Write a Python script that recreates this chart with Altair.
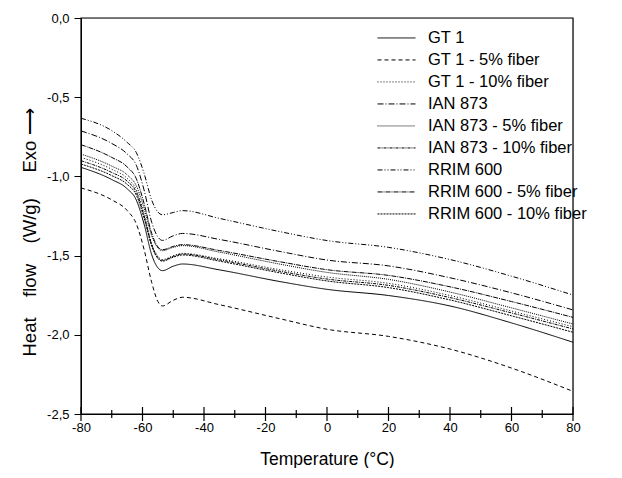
import altair as alt
import pandas as pd

temps = [-80, -70, -65, -62, -59.5, -57, -55, -53.5, -50, -47, -35, -15, 0, 20, 40, 60, 80]

series_names = [
    "GT 1", "GT 1 - 5% fiber", "GT 1 - 10% fiber",
    "IAN 873", "IAN 873 - 5% fiber", "IAN 873 - 10% fiber",
    "RRIM 600", "RRIM 600 - 5% fiber", "RRIM 600 - 10% fiber",
]

gt1       = [-0.943, -1.020, -1.078, -1.150, -1.300, -1.495, -1.577, -1.595, -1.567, -1.553, -1.590, -1.665, -1.713, -1.752, -1.818, -1.925, -2.047]
gt1_5     = [-1.073, -1.148, -1.215, -1.300, -1.460, -1.670, -1.790, -1.818, -1.782, -1.763, -1.810, -1.900, -1.965, -2.010, -2.090, -2.210, -2.357]
gt1_10    = [-0.880, -0.955, -1.012, -1.085, -1.235, -1.425, -1.505, -1.525, -1.500, -1.486, -1.520, -1.590, -1.635, -1.675, -1.752, -1.850, -1.949]
ian       = [-0.713, -0.792, -0.858, -0.930, -1.085, -1.290, -1.382, -1.404, -1.375, -1.360, -1.398, -1.475, -1.528, -1.565, -1.640, -1.735, -1.843]
ian_5     = [-0.859, -0.935, -0.990, -1.060, -1.200, -1.375, -1.452, -1.469, -1.448, -1.437, -1.478, -1.555, -1.606, -1.650, -1.730, -1.830, -1.932]
ian_10    = [-0.901, -0.975, -1.030, -1.100, -1.248, -1.432, -1.512, -1.530, -1.505, -1.490, -1.527, -1.600, -1.648, -1.688, -1.765, -1.862, -1.963]
rrim      = [-0.633, -0.711, -0.785, -0.850, -0.980, -1.150, -1.225, -1.242, -1.228, -1.216, -1.265, -1.350, -1.405, -1.448, -1.525, -1.630, -1.749]
rrim_5    = [-0.800, -0.880, -0.940, -1.015, -1.170, -1.360, -1.445, -1.463, -1.442, -1.431, -1.468, -1.540, -1.589, -1.625, -1.697, -1.790, -1.890]
rrim_10   = [-0.922, -0.995, -1.050, -1.118, -1.262, -1.440, -1.518, -1.535, -1.510, -1.496, -1.535, -1.610, -1.660, -1.702, -1.780, -1.880, -1.984]

series_values = [gt1, gt1_5, gt1_10, ian, ian_5, ian_10, rrim, rrim_5, rrim_10]

dash_styles = [
    [1, 0], [4, 3], [1, 2],
    [6, 2, 1, 2], [1, 1], [3, 1, 1, 1],
    [5, 2, 1, 2, 1, 2], [5, 1, 1, 1], [2, 1],
]

x_range = [-80, 80]
y_range = [-2.5, 0]
x_major = [-80, -60, -40, -20, 0, 20, 40, 60, 80]
x_minor = [-70, -50, -30, -10, 10, 30, 50, 70]
y_ticks = [-2.5, -2.25, -2.0, -1.75, -1.5, -1.25, -1.0, -0.75, -0.5, -0.25, 0.0]

rows = []
for name, vals in zip(series_names, series_values):
    for t, v in zip(temps, vals):
        rows.append({"T": t, "HF": v, "sample": name})
df = pd.DataFrame(rows)

FONT = "Liberation Sans"
NBSP = "\u00a0"
y_title = f"Heat{NBSP*4}flow{NBSP*4}(W/g){NBSP*5}Exo ⟶"

x_scale = alt.Scale(domain=x_range, nice=False, zero=False)
y_scale = alt.Scale(domain=y_range, nice=False, zero=False)

common_axis = dict(
    labelFont=FONT, titleFont=FONT, labelFontSize=13, labelColor="black",
    titleColor="black", domainColor="black", tickColor="black", grid=False,
    domainWidth=1, tickWidth=1, labelFlush=False, titleFontWeight="normal",
)

lines = alt.Chart(df).mark_line(
    interpolate="monotone", strokeWidth=1, color="black"
).encode(
    x=alt.X(
        "T:Q",
        scale=x_scale,
        axis=alt.Axis(
            orient="bottom",
            title="Temperature (°C)",
            values=x_major,
            labelExpr="(datum.value < 0 ? '-' : '') + format(abs(datum.value), 'd')",
            ticks=False,
            labelPadding=7,
            titleFontSize=17.5,
            titleY=50,
            titleBaseline="alphabetic",
            **common_axis,
        ),
    ),
    y=alt.Y(
        "HF:Q",
        scale=y_scale,
        axis=alt.Axis(
            orient="left",
            title=y_title,
            values=y_ticks,
            labelExpr="abs(datum.value * 2 - round(datum.value * 2)) < 0.001 ? replace((datum.value < 0 ? '-' : '') + format(abs(datum.value), '.1f'), '.', ',') : ''",
            tickSize={"condition": {"test": "abs(datum.value * 2 - round(datum.value * 2)) < 0.001", "value": 7}, "value": 4},
            labelPadding=5,
            titleFontSize=18.5,
            titleAngle=270,
            titleX=-46,
            titleY=214,
            titleBaseline="alphabetic",
            **common_axis,
        ),
    ),
    strokeDash=alt.StrokeDash(
        "sample:N",
        scale=alt.Scale(domain=series_names, range=dash_styles),
        legend=alt.Legend(
            title=None,
            orient="none",
            legendX=296,
            legendY=9,
            symbolType="stroke",
            symbolSize=1444,
            symbolStrokeWidth=1,
            symbolStrokeColor="black",
            clipHeight=21.9,
            rowPadding=0,
            labelFontSize=16.5,
            labelOffset=12,
            labelFont=FONT,
            labelColor="black",
            padding=0,
        ),
    ),
    detail="sample:N",
)

# full frame box around the plot area
frame = alt.Chart(pd.DataFrame({"T": [x_range[0]], "T2": [x_range[1]], "HF": [y_range[0]], "HF2": [y_range[1]]})).mark_rect(
    fill=None, fillOpacity=0, stroke="#000000", strokeWidth=1.2, strokeOpacity=1
).encode(
    x=alt.X("T:Q", scale=x_scale),
    x2="T2:Q",
    y=alt.Y("HF:Q", scale=y_scale),
    y2="HF2:Q",
)

# inward-pointing ticks on the bottom axis
tick_df = pd.DataFrame({
    "T": x_major + x_minor,
    "HF": [y_range[0]] * (len(x_major) + len(x_minor)),
    "major": [True] * len(x_major) + [False] * len(x_minor),
})
ticks = alt.Chart(tick_df).mark_tick(
    orient="vertical", thickness=1.2, color="#000000", opacity=1
).encode(
    x=alt.X("T:Q", scale=x_scale),
    y=alt.Y("HF:Q", scale=y_scale),
    size=alt.condition("datum.major", alt.value(14), alt.value(8)),
)

chart = alt.layer(lines, frame, ticks).properties(
    width=492,
    height=396,
    padding={"left": 11, "top": 4, "right": 5, "bottom": 0},
)

chart.save("out.html", embed_options={"renderer": "svg", "actions": False})
